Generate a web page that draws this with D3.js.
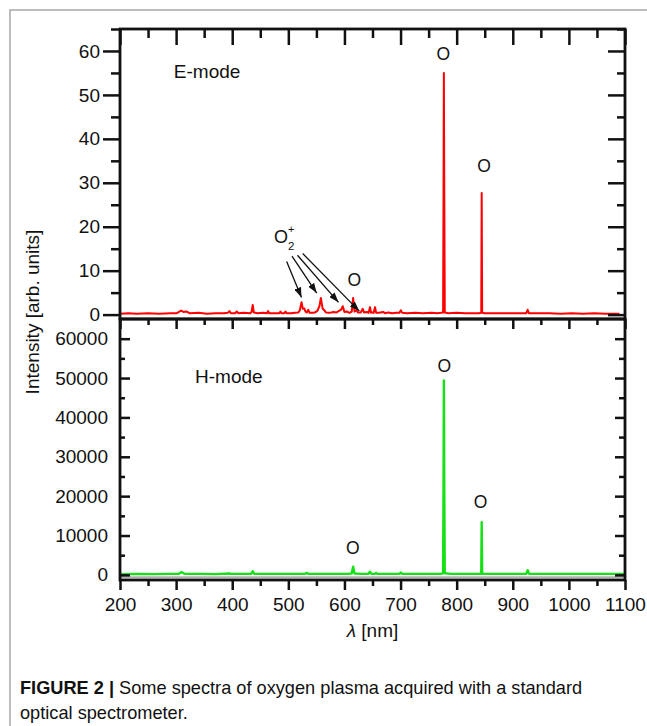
<!DOCTYPE html>
<html>
<head>
<meta charset="utf-8">
<script src="https://cdn.jsdelivr.net/npm/d3@7"></script>
<style>
    body { margin: 0; background: #fff; }
    svg { display: block; font-family: "Liberation Sans", Arial, Helvetica, sans-serif; }
    .tick text { font-family: "Liberation Sans", Arial, Helvetica, sans-serif; font-size: 19px; fill: #111; }
</style>
</head>
<body>
<svg id="chart" width="647" height="726"></svg>
<script>
// 波长刻度
var xTicks = [200, 300, 400, 500, 600, 700, 800, 900, 1000, 1100];
var xMinor = [250, 350, 450, 550, 650, 750, 850, 950, 1050];
// E-mode 刻度 (arb. units)
var eTicks = [0, 10, 20, 30, 40, 50, 60];
var eMinor = [5, 15, 25, 35, 45, 55, 65];
// H-mode 刻度
var hTicks = [0, 10000, 20000, 30000, 40000, 50000, 60000];
var hMinor = [5000, 15000, 25000, 35000, 45000, 55000];

// E-mode spectrum [nm, intensity]
var eSpectrum = [
    [200,0.2],[215,0.3],[230,0.2],[250,0.3],[270,0.2],[290,0.3],[300,0.3],[305,0.6],[309,0.9],[313,0.6],
    [318,0.7],[325,0.3],[340,0.4],[355,0.2],[370,0.3],[385,0.3],[392,0.4],[395,0.8],[398,0.3],[405,0.3],
    [408,0.7],[411,0.3],[420,0.4],[432,0.3],[434.5,0.6],[436.5,2.2],[438.5,0.5],[445,0.3],[455,0.4],[462,0.3],
    [464,0.8],[466,0.3],[475,0.3],[484,0.3],[486,0.7],[488,0.3],[493,0.3],[495,0.7],[497,0.3],[505,0.3],
    [512,0.4],[518,0.5],[520.5,1.0],[523.5,2.8],[526,1.3],[528.5,1.4],[530.5,0.7],[533,0.5],[535.5,1.1],[538,0.4],
    [545,0.4],[549,0.6],[552,0.9],[555.5,2.0],[558,3.8],[561,1.4],[564,1.0],[567,0.5],[574,0.4],[580,0.6],
    [586,0.5],[591,0.9],[594.5,1.2],[597,1.9],[600,0.6],[604,0.7],[609,0.4],[613,0.7],[615.5,3.8],[618,0.7],
    [621,1.0],[624,0.5],[629,0.5],[632.5,1.3],[635,0.5],[640,0.6],[643,0.4],[645.5,1.7],[647.5,0.4],[650,0.5],
    [652,0.4],[654.5,1.7],[656.5,0.4],[662,0.4],[669,0.6],[673,0.3],[678,0.5],[685,0.3],[692,0.4],[698,0.4],
    [700.5,1.0],[703,0.4],[712,0.3],[726,0.4],[740,0.3],[755,0.4],[765,0.3],[772,0.4],[775.8,0.5],[776.6,28],
    [777.2,55],[777.9,28],[778.8,0.5],[785,0.3],[800,0.4],[815,0.3],[830,0.3],[840,0.3],[843.8,0.4],[844.6,27.7],
    [845.4,0.4],[850,0.3],[865,0.3],[880,0.3],[900,0.3],[915,0.3],[924,0.3],[926.5,1.1],[929,0.3],[945,0.3],
    [965,0.3],[985,0.2],[1005,0.3],[1025,0.2],[1045,0.3],[1065,0.2],[1090,0.2]
];
// H-mode spectrum [nm, intensity]
var hSpectrum = [
    [200,200],[230,250],[260,200],[290,250],[305,300],[310,700],[315,300],[340,250],[370,200],[395,350],
    [398,250],[420,250],[434,300],[436.5,900],[439,300],[470,250],[500,250],[530,300],[533,500],[536,250],
    [560,250],[590,250],[605,250],[613,350],[615.5,2100],[618,350],[630,250],[643,300],[645.5,800],[648,300],
    [654,250],[656.5,500],[659,250],[680,250],[698,250],[700.5,600],[703,250],[730,250],[755,250],[772,300],
    [775.8,400],[776.6,22000],[777.2,49400],[777.9,22000],[778.8,400],[790,250],[810,250],[830,250],[843.8,300],[844.6,13400],
    [845.4,300],[860,250],[890,250],[915,250],[924,300],[926.5,1200],[929,300],[960,250],[1000,250],[1040,250],
    [1070,250],[1100,250]
];
// H-mode 灰色底线
var hFloor = [[200,-600],[1100,-600]];

// 标注: 原子氧谱线 [nm, intensity]
var oMarksE = [[776,57.9],[848.7,32.5],[617.6,6.4]];
var oMarksH = [[778,51600],[842.8,17000],[614.7,5250]];
// O2+ 箭头 起点/终点 [nm, intensity]
var o2Tails = [[497,12.1],[506.5,13.3],[516.3,13.5],[525.6,13.9]];
var o2Tips = [[523.5,3.9],[550.6,4.9],[589.4,2.8],[626.5,0.8]];

var svg = d3.select('#chart');
var plotL = 120, plotR = 625, topY = 29, midY = 319, botY = 580;

var x = d3.scaleLinear().domain([200, 1100]).range([plotL, plotR]);
var yE = d3.scaleLinear().domain([-1, 65]).range([midY, topY]);
var yH = d3.scaleLinear().domain([-1300, 65000]).range([botY, midY]);

// 外框 (灰色)
svg.append('rect')
    .attr('x', 10).attr('y', 10)
    .attr('width', 700).attr('height', 800)
    .attr('fill', 'none')
    .attr('stroke', '#a8a8a8')
    .attr('stroke-width', 1.5);

var defs = svg.append('defs');
defs.append('clipPath').attr('id', 'clipE').append('rect')
    .attr('x', plotL).attr('y', topY).attr('width', plotR - plotL).attr('height', midY - topY);
defs.append('clipPath').attr('id', 'clipH').append('rect')
    .attr('x', plotL).attr('y', midY).attr('width', plotR - plotL).attr('height', botY - midY);
defs.append('marker')
    .attr('id', 'head')
    .attr('viewBox', '0 0 10 7')
    .attr('refX', 10).attr('refY', 3.5)
    .attr('markerWidth', 10).attr('markerHeight', 7)
    .attr('markerUnits', 'userSpaceOnUse')
    .attr('orient', 'auto')
    .append('path').attr('d', 'M0,0L10,3.5L0,7Z').attr('fill', '#111');

// 谱线
var lineE = d3.line().x(function (d) { return x(d[0]); }).y(function (d) { return yE(d[1]); });
var lineH = d3.line().x(function (d) { return x(d[0]); }).y(function (d) { return yH(d[1]); });

svg.append('path').datum(eSpectrum)
    .attr('clip-path', 'url(#clipE)')
    .attr('d', lineE)
    .attr('fill', 'none').attr('stroke', '#ff0000').attr('stroke-width', 2).attr('stroke-linejoin', 'round');

svg.append('path').datum(hFloor)
    .attr('clip-path', 'url(#clipH)')
    .attr('d', lineH)
    .attr('fill', 'none').attr('stroke', '#b0b0b0').attr('stroke-width', 2);
svg.append('path').datum(hSpectrum)
    .attr('clip-path', 'url(#clipH)')
    .attr('d', lineH)
    .attr('fill', 'none').attr('stroke', '#16e016').attr('stroke-width', 2.4).attr('stroke-linejoin', 'round');

// 刻度
function put(axis, tx, ty) {
    var g = svg.append('g').attr('transform', 'translate(' + tx + ',' + ty + ')').call(axis);
    g.attr('font-family', null).attr('font-size', null);
    g.select('.domain').remove();
    g.selectAll('.tick line').attr('stroke', '#111').attr('stroke-width', 2.5);
    return g;
}
function ticks(gen, scale, values, size, pad, labelled) {
    var a = gen(scale).tickValues(values).tickSize(size).tickPadding(pad || 3);
    a.tickFormat(labelled ? d3.format('d') : '');
    return a;
}

// E-mode 面板: 左外, 上/右内
put(ticks(d3.axisLeft, yE, eTicks, 17, 3, true), plotL, 0);
put(ticks(d3.axisLeft, yE, eMinor, 9), plotL, 0);
put(ticks(d3.axisRight, yE, eTicks, -17), plotR, 0);
put(ticks(d3.axisRight, yE, eMinor, -8), plotR, 0);
put(ticks(d3.axisTop, x, xTicks, -16), 0, topY);
put(ticks(d3.axisTop, x, xMinor, -9), 0, topY);

// H-mode 面板: 左/右/上内, 下外
put(ticks(d3.axisLeft, yH, hTicks, -10, 12, true), plotL, 0);
put(ticks(d3.axisLeft, yH, hMinor, -5), plotL, 0);
put(ticks(d3.axisRight, yH, hTicks, -10), plotR, 0);
put(ticks(d3.axisRight, yH, hMinor, -6), plotR, 0);
put(ticks(d3.axisTop, x, xTicks, -10), 0, midY);
put(ticks(d3.axisTop, x, xMinor, -6), 0, midY);
put(ticks(d3.axisBottom, x, xTicks, 10, 8, true), 0, botY);
put(ticks(d3.axisBottom, x, xMinor, 6), 0, botY);

// 面板边框
[[topY, midY], [midY, botY]].forEach(function (p) {
    svg.append('rect')
        .attr('x', plotL).attr('y', p[0])
        .attr('width', plotR - plotL).attr('height', p[1] - p[0])
        .attr('fill', 'none').attr('stroke', '#111').attr('stroke-width', 2.8);
});

// 模式标签
svg.append('text').attr('x', x(296)).attr('y', yE(53.9))
    .attr('font-size', 19).attr('fill', '#111').text('E-mode');
svg.append('text').attr('x', x(333.7)).attr('y', yH(48675))
    .attr('font-size', 19).attr('fill', '#111').text('H-mode');

// O 标注
svg.selectAll('text.o-e').data(oMarksE).enter().append('text')
    .attr('class', 'o-e')
    .attr('x', function (d) { return x(d[0]); })
    .attr('y', function (d) { return yE(d[1]); })
    .attr('text-anchor', 'middle').attr('font-size', 17.5).attr('fill', '#111')
    .text('O');
svg.selectAll('text.o-h').data(oMarksH).enter().append('text')
    .attr('class', 'o-h')
    .attr('x', function (d) { return x(d[0]); })
    .attr('y', function (d) { return yH(d[1]); })
    .attr('text-anchor', 'middle').attr('font-size', 17.5).attr('fill', '#111')
    .text('O');

// O2+ 标签和箭头
var o2 = svg.append('text').attr('x', x(474.5)).attr('y', yE(16.2))
    .attr('font-size', 18).attr('fill', '#111');
o2.append('tspan').text('O');
o2.append('tspan').attr('font-size', 11.5).attr('dy', 6.5).text('2');
o2.append('tspan').attr('font-size', 11).attr('dx', -6.5).attr('dy', -17).text('+');

svg.selectAll('line.o2-arrow').data(o2Tails).enter().append('line')
    .attr('class', 'o2-arrow')
    .attr('x1', function (d) { return x(d[0]); })
    .attr('y1', function (d) { return yE(d[1]); })
    .attr('x2', function (d, i) { return x(o2Tips[i][0]); })
    .attr('y2', function (d, i) { return yE(o2Tips[i][1]); })
    .attr('stroke', '#111').attr('stroke-width', 1.3)
    .attr('marker-end', 'url(#head)');

// 轴标题
svg.append('text')
    .attr('transform', 'translate(39,312) rotate(-90)')
    .attr('text-anchor', 'middle').attr('font-size', 19).attr('fill', '#111')
    .text('Intensity [arb. units]');
var xt = svg.append('text')
    .attr('x', (plotL + plotR) / 2).attr('y', 637)
    .attr('text-anchor', 'middle').attr('font-size', 19).attr('fill', '#111');
xt.append('tspan').attr('font-style', 'italic').text('\u03bb');
xt.append('tspan').text(' [nm]');

// 图注
var cap = svg.append('text').attr('x', 20).attr('y', 694).attr('font-size', 18.2).attr('fill', '#111');
cap.append('tspan').attr('font-weight', 'bold').text('FIGURE 2 |');
cap.append('tspan').text(' Some spectra of oxygen plasma acquired with a standard');
svg.append('text').attr('x', 20).attr('y', 719).attr('font-size', 18.2).attr('fill', '#111')
    .text('optical spectrometer.');
</script>
</body>
</html>
